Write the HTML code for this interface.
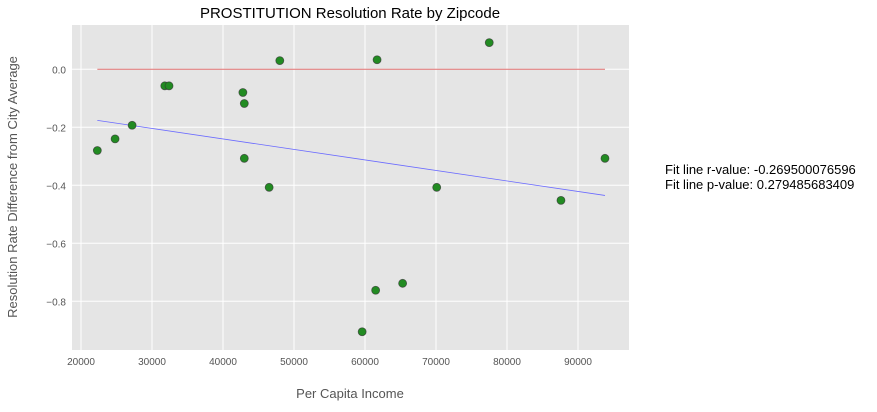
<!DOCTYPE html>
<html><head><meta charset="utf-8"><style>
body{margin:0;background:#fff;font-family:"Liberation Sans",sans-serif;}
svg text{font-family:"Liberation Sans",sans-serif;}
</style></head><body>
<svg id="chart" width="877" height="407" xmlns="http://www.w3.org/2000/svg">
<rect x="72" y="25" width="557" height="325" fill="#e5e5e5"/>
<g id="grid"></g><g id="marks"></g><g id="ticks"></g>
<text x="350" y="18" text-anchor="middle" font-size="15" fill="#000">PROSTITUTION Resolution Rate by Zipcode</text>
<text x="350" y="398" text-anchor="middle" font-size="13" fill="#555">Per Capita Income</text>
<text transform="translate(17,187) rotate(-90)" text-anchor="middle" font-size="13" fill="#555">Resolution Rate Difference from City Average</text>
<text x="665" y="174" font-size="13" fill="#000">Fit line r-value: -0.269500076596</text>
<text x="665" y="189" font-size="13" fill="#000">Fit line p-value: 0.279485683409</text>
</svg>
<script>
const incomes=[22300,24800,27200,31800,32400,42800,43000,43000,46500,48000,59600,61500,61700,65300,70100,77500,87600,93800];
const diffs=[-0.28,-0.24,-0.193,-0.057,-0.057,-0.08,-0.118,-0.307,-0.407,0.03,-0.905,-0.762,0.033,-0.738,-0.407,0.092,-0.452,-0.307];
const xTicks=[20000,30000,40000,50000,60000,70000,80000,90000];
const yTicks=[0.0,-0.2,-0.4,-0.6,-0.8];
const fitStart=[22300,-0.176];
const fitEnd=[93800,-0.435];
const X=v=>81+(v-20000)*0.0071;
const Y=v=>69.3-v*290;
const NS="http://www.w3.org/2000/svg";
function mk(tag,attrs,parent){const e=document.createElementNS(NS,tag);for(const k in attrs)e.setAttribute(k,attrs[k]);parent.appendChild(e);return e;}
const grid=document.getElementById('grid'),marks=document.getElementById('marks'),ticks=document.getElementById('ticks');
xTicks.forEach(t=>{
 const l=mk('line',{x1:X(t),x2:X(t),y1:25,y2:350,stroke:'#fff','stroke-width':1},grid);
 
 
 const tx=mk('text',{x:X(t),y:365,'text-anchor':'middle','font-size':10,fill:'#555'},ticks);
 tx.textContent=t;
 
 
});
yTicks.forEach(t=>{
 const l=mk('line',{x1:72,x2:629,y1:Y(t),y2:Y(t),stroke:'#fff','stroke-width':1},grid);
 
 
 const tx=mk('text',{x:66,y:Y(t)+4,'text-anchor':'end','font-size':10,fill:'#555'},ticks);
 tx.textContent=(t===0?'0.0':'\u2212'+Math.abs(t).toFixed(1));
 
 
});
const zl=mk('line',{x1:X(fitStart[0]),x2:X(fitEnd[0]),y1:Y(0),y2:Y(0),stroke:'#e07070','stroke-width':1},marks);


const fl=mk('line',{x1:X(fitStart[0]),x2:X(fitEnd[0]),y1:Y(fitStart[1]),y2:Y(fitEnd[1]),stroke:'#6a6aff','stroke-width':0.8},marks);


incomes.forEach((v,i)=>{
 const c=mk('circle',{cx:X(v),cy:Y(diffs[i]),r:4,fill:'#228b22',stroke:'#333','stroke-width':0.8,'stroke-opacity':0.7},marks);
 
 
});
</script>
</body></html>
